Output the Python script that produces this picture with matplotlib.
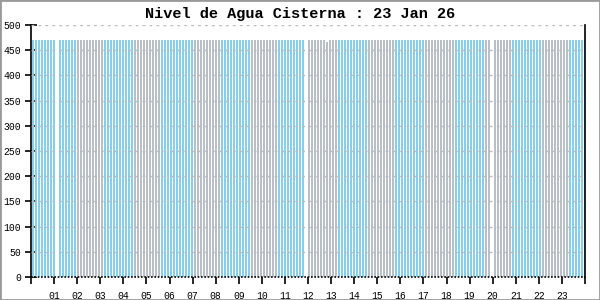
import numpy as np
import matplotlib
matplotlib.use("Agg")
import matplotlib.pyplot as plt
from matplotlib.patches import Rectangle

TITLE = "Nivel de Agua Cisterna : 23 Jan 26"

# one reading roughly every 7.8 minutes, None = missing reading
STEP_MIN = 7.8
nivel = [
    470, 470, 470, 470, 470, 470, 470, 470, None, 470, 470, 470, 470, 470, 470, 470, 470, 470, 470, 470,
    470, 470, 470, 470, 470, 470, 470, 470, 470, 470, 470, 470, 470, 470, 470, 470, 470, 470, 470, 470,
    470, 470, 470, 470, 470, 470, 470, 470, 470, 470, 470, 470, 470, 470, 470, 470, 470, 470, 470, 470,
    470, 470, 470, 470, 470, 470, 470, 470, 470, 470, 470, 470, 470, 470, 470, 470, 470, 470, 470, 470,
    470, 470, 470, 470, 470, 470, 470, 470, 470, 470, 470, None, 470, 470, 470, 470, 470, 470, 466, 470,
    470, 470, 470, 470, 470, 470, 470, 470, 470, 470, 470, 470, 470, 470, 470, 470, 470, 470, 470, 470,
    470, 470, 470, 470, 470, 470, 470, 470, 470, 470, 470, 470, 470, 470, 470, 470, 470, 470, 470, 470,
    470, 470, 470, 470, 470, 470, 470, 470, 470, 470, 470, 470, 470, None, 470, 470, 470, 470, 470, 470,
    470, 470, 470, 470, 470, 470, 470, 470, 470, 470, 470, 470, 470, 470, 470, 470, 470, 470, 470, 470,
    470, 470, 470, 470, 470,
]

# hour ranges where bars show in gray instead of sky blue
gray_ranges = [(1.95, 3.12), (4.46, 5.63), (7.01, 8.10), (9.52, 10.65), (11.90, 13.20),
               (14.55, 15.67), (17.06, 18.27), (19.65, 20.78), (22.12, 23.25)]
hour_labels = ["%02d" % h for h in range(1, 24)]

BLUE = "#87ceeb"
GRAY = "#b8bfc7"

horas = []
valores = []
colores = []
for i, v in enumerate(nivel):
    if v is None:
        continue
    h = i * STEP_MIN / 60.0 + 0.04
    horas.append(h)
    valores.append(v)
    gris = any(a <= h < b for a, b in gray_ranges)
    colores.append(GRAY if gris else BLUE)

mono = "Liberation Mono"

fig = plt.figure(figsize=(6, 3), dpi=100)
ax = fig.add_axes([31 / 600, 23 / 300, 554 / 600, 252 / 300])

ax.bar(horas, valores, width=0.085, align="edge", color=colores, linewidth=0,
       antialiased=False, zorder=2)

ax.set_xlim(0, 24)
ax.set_ylim(0, 500)

ax.set_yticks(range(0, 501, 50))
for y in range(50, 501, 50):
    ax.axhline(y, color="#bbbbbb", linestyle=(0, (2, 3)), linewidth=1, zorder=3)
ax.axhline(0, color="black", linestyle=(0, (1, 1)), linewidth=1.2, zorder=4, clip_on=False)

ax.set_xticks(range(0, 25))
ax.set_xticklabels([""] + hour_labels + [""])

ax.spines["top"].set_visible(False)
ax.spines["bottom"].set_visible(False)
for s in ("left", "right"):
    ax.spines[s].set_color("black")
    ax.spines[s].set_linewidth(1.2)

ax.tick_params(axis="y", direction="inout", length=8, width=1.2, pad=3, labelsize=7)
ax.tick_params(axis="x", direction="out", length=5, width=1.2, pad=5, labelsize=7)
for lab in ax.get_xticklabels() + ax.get_yticklabels():
    lab.set_fontfamily(mono)

fig.text(0.5, 0.953, TITLE, ha="center", va="center", fontsize=11,
         fontweight="bold", fontfamily=mono)

fig.patches.append(Rectangle((0, 0), 1, 1, transform=fig.transFigure, fill=False,
                             edgecolor="#999999", linewidth=2))

fig.savefig("out.png", dpi=100)
